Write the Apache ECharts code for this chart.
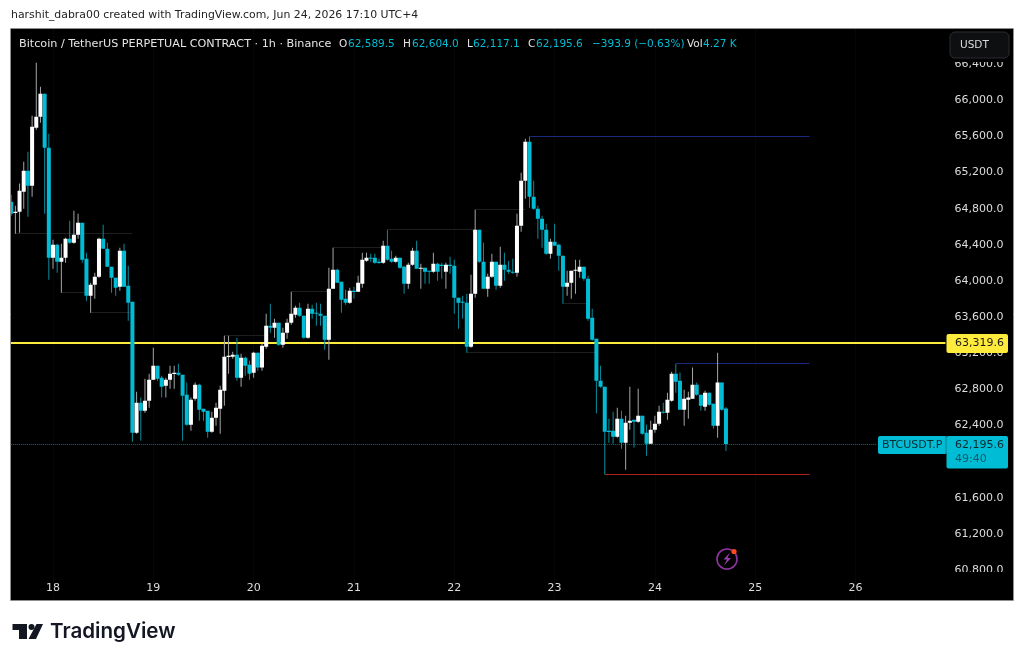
<!DOCTYPE html>
<html>
<head>
<meta charset="utf-8">
<style>html,body{margin:0;padding:0;background:#fff}#chart{width:1024px;height:663px}</style>
<script src="https://cdn.jsdelivr.net/npm/echarts@6/dist/echarts.min.js"></script>
</head>
<body>
<div id="chart"></div>
<script>
// BTCUSDT.P hourly candles, oldest first. The first candle sits 10 hours before the 18th.
const opens = [64877,64755,64766,64988,65220,65054,65696,65817,66072,65475,64258,64401,64213,64258,64467,64423,64512,64645,64246,63837,63959,64047,64467,64357,64158,64036,63936,64335,63947,63771,62321,62653,62565,62675,62908,63063,62930,62841,62908,62974,62985,62963,62742,62410,62697,62852,62587,62565,62332,62487,62587,62786,63162,63162,63184,62930,63151,63074,62985,63206,63041,63273,63505,63483,63538,63295,63428,63538,63627,63704,63616,63372,63693,63649,63638,63616,63350,63914,64125,63992,63804,63760,63892,63881,63970,64224,64258,64258,64213,64202,64390,64246,64213,64258,64158,63970,64180,64335,64136,64147,64114,64103,64191,64180,64103,64180,64169,63815,63771,63760,63273,63859,64567,64213,63914,64047,64213,63947,64180,64125,64103,64092,64611,65109,65541,64932,64799,64689,64567,64302,64434,64401,64280,63936,63981,64114,64103,64158,64025,63594,63361,62897,62830,62343,62343,62277,62476,62211,62432,62465,62443,62509,62321,62200,62354,62421,62554,62543,62675,62974,62897,62576,62686,62697,62852,62742,62609,62764,62642,62399,62875,62589.5];
const highs = [64955,64833,65077,65320,65430,65829,66415,66149,66072,65630,64456,64412,64412,64478,64667,64777,64744,64645,64313,63981,64092,64478,64622,64423,64158,64036,64368,64412,64169,63771,62775,62709,62919,62974,63261,63063,62952,62930,63063,63063,63085,62963,62875,62709,62875,62863,62587,62565,62554,62653,62841,63394,63394,63217,63372,63195,63162,63118,63217,63206,63306,63638,63749,63582,63538,63483,63582,63881,63726,63760,63616,63749,63738,63760,63749,63616,64147,64368,64136,63992,63903,63925,63936,64058,64313,64313,64302,64302,64246,64445,64567,64335,64280,64258,64169,64202,64368,64445,64191,64147,64114,64313,64202,64202,64202,64269,64235,63815,63837,63859,64069,64788,64567,64423,64081,64302,64213,64379,64313,64224,64246,64744,65198,65574,65596,65109,64833,64722,64633,64467,64633,64412,64280,64114,64114,64235,64235,64158,64058,63693,63361,63063,62830,62476,62554,62598,62565,62509,62830,62465,62808,62509,62410,62454,62509,62620,62653,62764,62996,63085,62985,62797,62775,63041,62875,62742,62786,62764,62642,63206,62875,62604];
const lows = [64722,64523,64534,64799,64711,64933,65674,65751,64744,64014,64135,64092,63870,64202,64412,64412,64467,64202,63782,63649,63804,64036,64357,64158,63870,63837,63892,63936,63560,62222,62310,62233,62543,62598,62908,62897,62709,62709,62808,62808,62952,62233,62399,62343,62675,62454,62454,62266,62321,62399,62310,62620,62974,63140,62897,62830,62952,62908,62930,63007,63007,63250,63428,63372,63284,63261,63361,63516,63594,63605,63361,63361,63582,63505,63505,63239,63129,63914,63981,63649,63738,63749,63804,63881,63925,64213,64213,64191,64191,64191,64224,64202,64202,64136,63859,63914,64169,64136,63914,63970,63970,64092,64003,64025,63914,64081,63638,63472,63582,63206,63261,63815,64202,63914,63826,64036,63903,63925,64003,64081,64081,64047,64545,64910,64810,64788,64467,64368,64291,64246,64390,64114,63749,63837,63804,63859,64036,64003,63560,63339,62532,62819,61857,62211,62200,62266,62144,61912,62354,62156,62432,62299,62067,62200,62321,62399,62532,62465,62664,62764,62576,62399,62476,62697,62731,62565,62565,62620,62366,62266,62565,62117.1];
const closes = [64744,64766,64999,65220,65054,65707,65817,66072,65475,64258,64401,64213,64258,64467,64423,64512,64645,64235,63837,63959,64047,64467,64357,64158,64036,63925,64335,63936,63760,62321,62653,62565,62675,62908,63063,62919,62830,62908,62974,62985,62963,62731,62410,62686,62852,62576,62554,62332,62487,62598,62797,63162,63173,63184,62930,63151,63063,62974,63206,63041,63284,63505,63483,63538,63295,63428,63538,63638,63704,63616,63372,63693,63638,63638,63616,63350,63914,64125,63981,63793,63760,63892,63881,63981,64235,64258,64246,64202,64202,64390,64235,64213,64258,64147,63970,64180,64335,64136,64147,64103,64103,64191,64103,64169,64180,64169,63815,63760,63760,63273,63859,64567,64213,63914,64047,64213,63947,64180,64125,64103,64092,64611,65109,65541,64932,64799,64689,64567,64302,64434,64390,64280,63936,63981,64114,64125,64158,64025,63583,63350,62897,62830,62332,62332,62277,62476,62211,62432,62454,62443,62509,62310,62200,62354,62421,62554,62543,62686,62974,62886,62576,62697,62709,62852,62742,62620,62764,62631,62399,62875,62576,62195.6];

const priceTicks = { min: 60400, max: 66800, step: 400 };
const firstHour = -10;
const hoursShown = 224;

const lastPrice = 62195.6;
const markedLevel = 63319.6;
// [from hour, to hour, price]
const fadedLevels = [[-9,19,64523],[2,9,63870],[9,19,63649],[41,51,63394],[57,66,63881],[67,80,64368],[80,101,64567],[101,113,64788],[122,128,63749],[99,130,63206]];
const highLevels = [[114,181,65596],[149,181,63085]];
const lowLevels = [[132,181,61857]];

const UP = '#ffffff', DOWN = '#00bcd4', UP_WICK = '#a6a6a6', DOWN_WICK = '#0b8c9e';
const FONT = '"DejaVu Sans"';

// Hour labels run from the 17th at 14:00; a label with hour 0 opens a new day.
const categories = [];
for (let k = 0; k < hoursShown; k++) {
  const total = 14 + k;
  categories.push((17 + Math.floor(total / 24)) + ' ' + (total % 24));
}
const isDayStart = v => v.endsWith(' 0');

const candleRows = opens.map((o, i) => [i, o, closes[i], lows[i], highs[i]]);

// One wick and one body per candle, both placed through the axes.
const BODY_WIDTH = 4, WICK_WIDTH = 1;
function renderCandle(params, api) {
  const idx = api.value(0), o = api.value(1), c = api.value(2), l = api.value(3), h = api.value(4);
  const up = c >= o;
  const x = api.coord([idx, o])[0];
  const yTop = api.coord([idx, Math.max(o, c)])[1];
  const yBottom = api.coord([idx, Math.min(o, c)])[1];
  const yHigh = api.coord([idx, h])[1];
  const yLow = api.coord([idx, l])[1];
  return {
    type: 'group',
    children: [
      { type: 'rect', shape: { x: x - WICK_WIDTH / 2, y: yHigh, width: WICK_WIDTH, height: yLow - yHigh }, style: { fill: up ? UP_WICK : DOWN_WICK } },
      { type: 'rect', shape: { x: x - BODY_WIDTH / 2, y: yTop, width: BODY_WIDTH, height: Math.max(1.2, yBottom - yTop) }, style: { fill: up ? UP : DOWN } }
    ]
  };
}

const segment = (rows, color, width, type) => rows.map(r => [
  { coord: [r[0] - firstHour, r[2]], lineStyle: { color, width, type: type || 'solid' } },
  { coord: [r[1] - firstHour, r[2]] }
]);

const dayLines = categories.map((v, i) => isDayStart(v) ? { xAxis: i, lineStyle: { color: '#0f0f0f', width: 1, type: 'dotted' } } : null).filter(Boolean);
const levelLines = dayLines
  .concat(segment(fadedLevels, '#1f1f1f', 1))
  .concat(segment(highLevels, '#1b2c80', 1.2))
  .concat(segment(lowLevels, '#b01f1a', 1.2))
  .concat(segment([[firstHour, 197, lastPrice]], '#0b6a78', 1, 'dotted'));
levelLines.push({ yAxis: markedLevel, lineStyle: { color: '#ffeb3b', width: 2, type: 'solid' } });

const Z = 100;
const rect = (x, y, width, height, fill, extra) => Object.assign({
  type: 'rect', z: Z, silent: true, shape: { x, y, width, height }, style: { fill }
}, extra || {});
const text = (x, y, str, fill, size, opts) => ({
  type: 'text', z: Z + 2, silent: true, x, y,
  style: Object.assign({ text: str, fill, font: (opts && opts.weight || 'normal') + ' ' + size + 'px ' + (opts && opts.family || FONT), textAlign: opts && opts.align || 'left', textVerticalAlign: 'middle' })
});

const header = [
  [339, 'O', '#e4e4e4'], [348, '62,589.5', DOWN],
  [403, 'H', '#e4e4e4'], [412, '62,604.0', DOWN],
  [467, 'L', '#e4e4e4'], [473, '62,117.1', DOWN],
  [528, 'C', '#e4e4e4'], [536, '62,195.6', DOWN],
  [592, '−393.9 (−0.63%)', DOWN],
  [687, 'Vol', '#e4e4e4'], [703, '4.27 K', DOWN]
];

const graphics = [
  // white page margin round the dark pane
  rect(0, 0, 1024, 28, '#fff'),
  rect(0, 600, 1024, 63, '#fff'),
  rect(0, 0, 11, 663, '#fff'),
  rect(1013, 0, 11, 663, '#fff'),
  rect(10.5, 28.5, 1003, 572, 'none', { style: { fill: 'none', stroke: '#8e8e8e', lineWidth: 1 } }),
  // price scale ends under the currency button and above the time scale
  rect(946.5, 29, 66, 33, '#000'),
  rect(946.5, 572, 66, 28, '#000'),
  rect(950, 32, 59, 26, '#0e0f11', { shape: { x: 950, y: 32, width: 59, height: 26, r: 5 }, style: { fill: '#0e0f11', stroke: '#2a2d33', lineWidth: 1 } }),
  text(960, 45, 'USDT', '#dcdcdc', 10.5),
  // price tags
  rect(946.5, 334, 61.5, 19, '#ffeb3b', { shape: { x: 946.5, y: 334, width: 61.5, height: 19, r: 2 } }),
  text(955, 343.5, '63,319.6', '#1a1a1a', 11),
  rect(878, 436, 69, 18, DOWN, { shape: { x: 878, y: 436, width: 69, height: 18, r: 2 } }),
  rect(946.5, 436, 61.5, 32.5, DOWN, { shape: { x: 946.5, y: 436, width: 61.5, height: 32.5, r: 2 } }),
  rect(945.5, 436, 1, 18, '#0a7f90'),
  text(882, 445, 'BTCUSDT.P', '#0c2a30', 11),
  text(955, 445, '62,195.6', '#0c2a30', 11),
  text(955, 459, '49:40', '#0d5a68', 11),
  // author line and wordmark
  text(11, 15, 'harshit_dabra00 created with TradingView.com, Jun 24, 2026 17:10 UTC+4', '#222', 10.9),
  text(50, 632, 'TradingView', '#131722', 20.6, { family: 'Inter', weight: 600 }),
  { type: 'polygon', z: Z + 2, silent: true, shape: { points: [[12.5, 624], [27, 624], [27, 639], [19, 639], [19, 630], [12.5, 630]] }, style: { fill: '#131722' } },
  { type: 'circle', z: Z + 2, silent: true, shape: { cx: 31.5, cy: 627, r: 3 }, style: { fill: '#131722' } },
  { type: 'polygon', z: Z + 2, silent: true, shape: { points: [[36.5, 624], [43, 624], [36, 639], [28.5, 639]] }, style: { fill: '#131722' } },
  // alert badge
  { type: 'circle', z: Z + 2, silent: true, shape: { cx: 727, cy: 559, r: 10 }, style: { fill: 'none', stroke: '#8e35a0', lineWidth: 1.6 } },
  { type: 'polygon', z: Z + 2, silent: true, shape: { points: [[730, 552.5], [723.5, 559.5], [727, 559.5], [724, 565.5], [731, 558], [727.5, 558]] }, style: { fill: '#9c3db0' } },
  { type: 'circle', z: Z + 3, silent: true, shape: { cx: 734, cy: 551.5, r: 2.6 }, style: { fill: '#ff4a1c' } },
  text(19, 44, 'Bitcoin / TetherUS PERPETUAL CONTRACT · 1h · Binance', '#e4e4e4', 11.2)
].concat(header.map(h => text(h[0], 44, h[1], h[2], 10.5)));

const chart = echarts.init(document.getElementById('chart'), null, { renderer: 'canvas' });
chart.setOption({
  animation: false,
  backgroundColor: '#000',
  grid: { left: 9.11, top: 27.9, width: 936.3, height: 578.4, containLabel: false },
  xAxis: {
    type: 'category',
    data: categories,
    boundaryGap: true,
    axisLine: { show: false },
    axisTick: { show: false },
    splitLine: { show: false },
    axisLabel: {
      inside: true,
      margin: 13,
      color: '#dddddd',
      fontFamily: FONT,
      fontSize: 11,
      interval: (i, v) => isDayStart(v),
      formatter: v => v.split(' ')[0]
    }
  },
  yAxis: {
    type: 'value',
    position: 'right',
    min: priceTicks.min,
    max: priceTicks.max,
    interval: priceTicks.step,
    scale: true,
    axisLine: { show: false },
    axisTick: { show: false },
    splitLine: { show: false },
    axisLabel: {
      margin: 9,
      color: '#dddddd',
      fontFamily: FONT,
      fontSize: 11,
      formatter: v => v.toLocaleString('en-US', { minimumFractionDigits: 1, maximumFractionDigits: 1 })
    }
  },
  series: [
    {
      type: 'custom',
      name: 'BTCUSDT.P',
      data: candleRows,
      renderItem: renderCandle,
      encode: { x: 0, y: [1, 2, 3, 4] },
      clip: true,
      z: 3,
      silent: true,
      markLine: { silent: true, z: 1, symbol: 'none', animation: false, label: { show: false }, data: levelLines }
    }
  ],
  graphic: graphics
});
</script>
</body>
</html>
